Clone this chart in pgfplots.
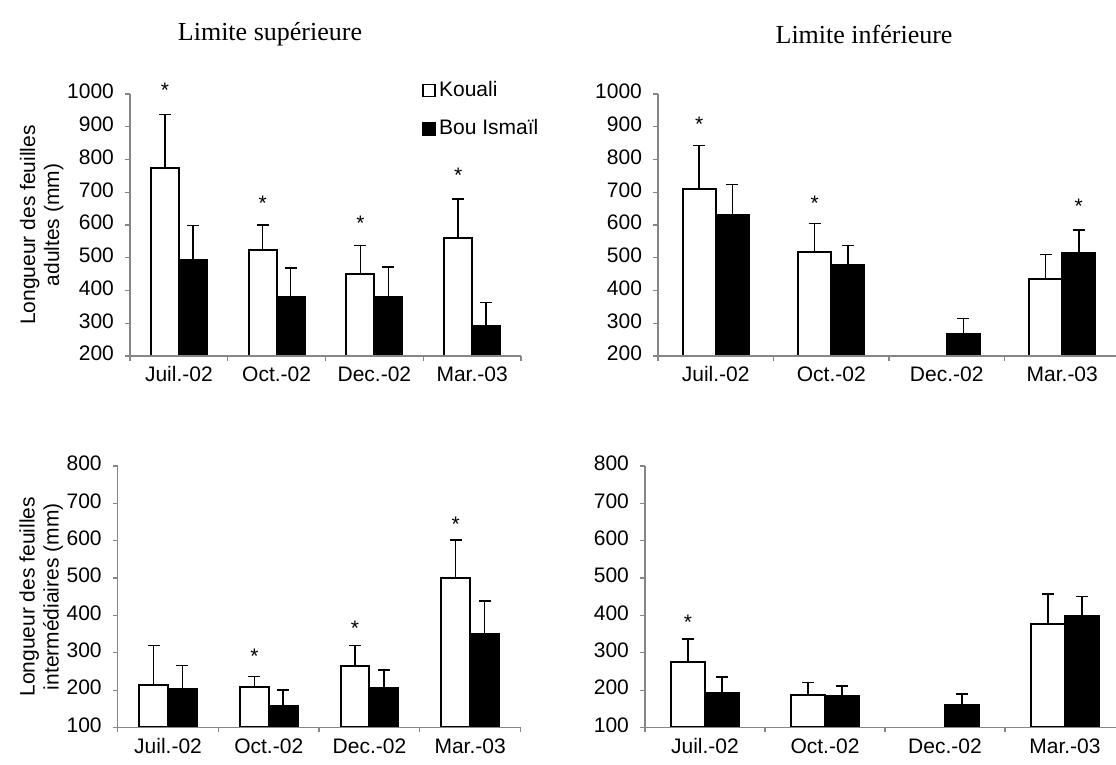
\documentclass[border=0pt]{standalone}
\usepackage{pgfplots}
\pgfplotsset{compat=1.18}
\usepackage{fontspec}
\setmainfont{Liberation Sans}
\newfontfamily\titlefont{Liberation Serif}
\definecolor{axgray}{RGB}{134,134,134}

\pgfplotsset{
  panel/.style={
    scale only axis,
    anchor=south west,
    clip=false,
    axis on top,
    xmin=0, xmax=4,
    axis x line=bottom, axis y line=left,
    axis line style={axgray, line width=0.6pt, -},
    tick style={axgray, line width=0.6pt},
    tick align=outside,
    major tick length=2.5pt,
    xtick={0,1,2,3,4}, xticklabels={},
    extra x ticks={0.5,1.5,2.5,3.5},
    extra x tick labels={Juil.-02,Oct.-02,Dec.-02,Mar.-03},
    extra x tick style={major tick length=0pt, tick style={draw=none}},
    typeset ticklabels with strut,
    ytick distance=100,
    /pgf/number format/assume math mode=true,
    /pgf/number format/1000 sep={},
    ticklabel style={font=\fontsize{10.5}{12}\selectfont, black},
    yticklabel style={xshift=-2pt},
    xticklabel style={yshift=-1pt},
    ylabel style={align=center, font=\fontsize{10.5}{10.5}\selectfont},
    ylabel shift=-5pt,
    title style={font=\titlefont\fontsize{13}{15}\selectfont, anchor=center},
  },
  base/.style={
    y coord trafo/.code=\pgfmathparse{##1-#1},
    y coord inv trafo/.code=\pgfmathparse{##1+#1},
  },
  errb/.style={
    error bars/y dir=plus, error bars/y explicit,
    error bars/error bar style={line width=0.75pt, black},
    error bars/error mark options={rotate=90, mark size=3pt, line width=0.75pt, black}},
  kbar/.style={ybar, bar width=0.286, bar shift=0pt, draw=black, fill=white, line width=1pt, errb},
  bbar/.style={ybar, bar width=0.286, bar shift=0pt, draw=black, fill=black, line width=1pt, errb},
  stars/.style={only marks, mark=text, text mark={*}, text mark as node=true,
    text mark style={font=\fontsize{10.5}{12}\selectfont, yshift=-1.5pt}, forget plot},
}

\begin{document}
\begin{tikzpicture}
\path[use as bounding box] (0,0) rectangle (558pt,382.5pt);

% Top left: Limite superieure, adultes
\begin{axis}[panel, base=200, at={(65pt,204.5pt)}, width=195.5pt, height=131pt,
  ymin=200, ymax=1000,
  ylabel={Longueur des feuilles\\[1.5pt]adultes (mm)},
  title={Limite supérieure}, title style={at={(0.358,1.183)}},
  legend style={at={(0.746,1.061)}, anchor=north west, draw=none, fill=none,
    inner sep=0pt, row sep=7pt, font=\fontsize{10.5}{12}\selectfont,
    nodes={inner sep=1.5pt},
    /tikz/every odd column/.append style={column sep=0pt}},
  legend cell align=left]
\addplot[kbar, legend image code/.code={\draw[black, fill=white, line width=0.6pt] (0pt,-3pt) rectangle (6pt,3pt);}]
  coordinates {(0.357,773) +- (0,165) (1.357,523) +- (0,77) (2.357,450) +- (0,88) (3.357,559) +- (0,121)};
\addlegendentry{Kouali}
\addplot[bbar, legend image code/.code={\fill[black] (0pt,-3pt) rectangle (6pt,3pt);}]
  coordinates {(0.643,492) +- (0,106) (1.643,380) +- (0,89) (2.643,381) +- (0,91) (3.643,292) +- (0,71)};
\addlegendentry{Bou Ismaïl}
\addplot[stars] coordinates {(0.357,1022) (1.357,676) (2.357,615) (3.357,760)};
\end{axis}

% Top right: Limite inferieure, adultes
\begin{axis}[panel, base=200, at={(329pt,204.5pt)}, width=231pt, height=131pt,
  ymin=200, ymax=1000,
  title={Limite inférieure}, title style={at={(0.446,1.183)}}]
\addplot[kbar]
  coordinates {(0.357,711) +- (0,132) (1.357,519) +- (0,86) (3.357,434) +- (0,76)};
\addplot[bbar]
  coordinates {(0.643,630) +- (0,93) (1.643,479) +- (0,59) (2.643,266) +- (0,49) (3.643,515) +- (0,69)};
\addplot[stars] coordinates {(0.357,918) (1.357,677) (3.643,666)};
\end{axis}

% Bottom left: Limite superieure, intermediaires
\begin{axis}[panel, base=100, at={(58.85pt,18.75pt)}, width=201.4pt, height=130.75pt,
  ymin=100, ymax=800,
  ylabel={Longueur des feuilles\\[1.5pt]intermédiaires (mm)}]
\addplot[kbar]
  coordinates {(0.357,215) +- (0,105) (1.357,209) +- (0,28) (2.357,264) +- (0,56) (3.357,501) +- (0,101)};
\addplot[bbar]
  coordinates {(0.643,204) +- (0,62) (1.643,158) +- (0,42) (2.643,206) +- (0,48) (3.643,351) +- (0,87)};
\addplot[stars] coordinates {(1.357,300) (2.357,373) (3.357,653)};
\end{axis}

% Bottom right: Limite inferieure, intermediaires
\begin{axis}[panel, base=100, at={(322.5pt,18.75pt)}, width=240pt, height=130.75pt,
  ymin=100, ymax=800]
\addplot[kbar]
  coordinates {(0.357,275) +- (0,62) (1.357,187) +- (0,34) (3.357,378) +- (0,79)};
\addplot[bbar]
  coordinates {(0.643,193) +- (0,42) (1.643,183) +- (0,28) (2.643,159) +- (0,31) (3.643,398) +- (0,53)};
\addplot[stars] coordinates {(0.357,391)};
\end{axis}
\end{tikzpicture}
\end{document}
